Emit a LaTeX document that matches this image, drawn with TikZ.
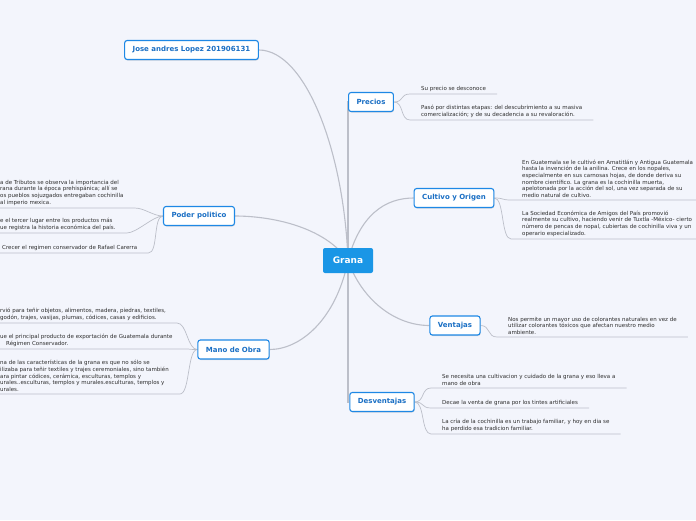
\documentclass[tikz,border=0pt]{standalone}
\usepackage{fontspec}
\setmainfont{DejaVu Sans}
\usetikzlibrary{shadows}
\definecolor{cbg}{HTML}{F3F5FC}
\definecolor{cblue}{HTML}{1E88E5}
\definecolor{ctopic}{HTML}{1A6FC4}
\definecolor{croot}{HTML}{1A96E6}
\definecolor{clink}{HTML}{BCBFC9}
\definecolor{cleaf}{HTML}{2E2E2E}
\pgfdeclarelayer{bg}
\pgfsetlayers{bg,main}
\tikzset{
  every picture/.style={x=1pt, y=-1pt},
  root/.style={fill=croot, rounded corners=2pt, text=white,
    font=\fontsize{9}{10}\selectfont\bfseries, minimum width=50pt, minimum height=25pt},
  topic/.style={draw=cblue, line width=1.1pt, fill=white, rounded corners=2.5pt, text=ctopic,
    font=\fontsize{7}{8}\selectfont\bfseries, inner xsep=8pt, minimum height=19pt,
    drop shadow={shadow xshift=0.5pt, shadow yshift=-1pt, opacity=0.25}},
  leaf/.style={anchor=south west, align=left, text=cleaf,
    font=\fontsize{5.5}{6.6}\selectfont, inner xsep=11pt, inner ysep=2.5pt},
  link/.style={clink, line width=1.1pt},
  twig/.style={clink, line width=0.7pt},
}
\newcommand{\bbox}{\path[use as bounding box] (0,0) rectangle (696,520);}

\begin{document}
\begin{tikzpicture}
  \bbox
  % central topic and branches
  \node[root] (grana) at (348,260.5) {Grana};
  \node[topic] (jose) at (191.5,50) {Jose andres Lopez 201906131};
  \node[topic] (precios) at (371,102) {Precios};
  \node[topic] (cultivo) at (454,198) {Cultivo y Origen};
  \node[topic] (ventajas) at (455,325.5) {Ventajas};
  \node[topic] (desv) at (382,402) {Desventajas};
  \node[topic] (poder) at (199,216) {Poder politico};
  \node[topic] (mano) at (233.5,349.5) {Mano de Obra};

  % leaves, right side
  \node[leaf] (pre1) at (410,94) {Su precio se desconoce};
  \node[leaf] (pre2) at (410,120) {Pasó por distintas etapas: del descubrimiento a su masiva\\
    comercialización; y de su decadencia a su revaloración.};
  \node[leaf] (cul1) at (511,200) {En Guatemala se le cultivó en Amatitlán y Antigua Guatemala\\
    hasta la invención de la anilina. Crece en los nopales,\\
    especialmente en sus carnosas hojas, de donde deriva su\\
    nombre científico. La grana es la cochinilla muerta,\\
    apelotonada por la acción del sol, una vez separada de su\\
    medio natural de cultivo.};
  \node[leaf] (cul2) at (511,239) {La Sociedad Económica de Amigos del País promovió\\
    realmente su cultivo, haciendo venir de Tuxtla -México- cierto\\
    número de pencas de nopal, cubiertas de cochinilla viva y un\\
    operario especializado.};
  \node[leaf] (ven1) at (497,337) {Nos permite un mayor uso de colorantes naturales en vez de\\
    utilizar colorantes tóxicos que afectan nuestro medio\\
    ambiente.};
  \node[leaf] (des1) at (431,388) {Se necesita una cultivacion y cuidado de la grana y eso lleva a\\
    mano de obra};
  \node[leaf] (des2) at (431,408) {Decae la venta de grana por los tintes artificiales};
  \node[leaf] (des3) at (431,434) {La cría de la cochinilla es un trabajo familiar, y hoy en dia se\\
    ha perdido esa tradicion familiar.};

  % leaves, left side (cut by the page edge)
  \node[leaf] (pod1) at (-11,208) {a de Tributos se observa la importancia del\\
    rana durante la época prehispánica; allí se\\
    os pueblos sojuzgados entregaban cochinilla\\
    al imperio mexica.};
  \node[leaf] (pod2) at (-11,233) {e el tercer lugar entre los productos más\\
    ue registra la historia económica del país.};
  \node[leaf] (pod3) at (-11,253) {\hspace*{2pt}Crecer el regimen conservador de Rafael Carerra};
  \node[leaf] (man1) at (-11,323) {rvió para teñir objetos, alimentos, madera, piedras, textiles,\\
    godón, trajes, vasijas, plumas, códices, casas y edificios.};
  \node[leaf] (man2) at (-11,349) {ue el principal producto de exportación de Guatemala durante\\
    \hspace*{6pt}Régimen Conservador.};
  \node[leaf] (man3) at (-11,394) {na de las características de la grana es que no sólo se\\
    ilizaba para teñir textiles y trajes ceremoniales, sino también\\
    ara pintar códices, cerámica, esculturas, templos y\\
    urales..esculturas, templos y murales.esculturas, templos y\\
    urales.};

  \begin{pgfonlayer}{bg}
    \fill[cbg] (0,0) rectangle (696,520);
    % main branches
    \draw[link] (grana.center) .. controls (344,150) and (305,50) .. (jose.east);
    \draw[link] (grana.center) |- (precios.west);
    \draw[link] (grana.center) .. controls (360,215) and (385,198) .. (cultivo.west);
    \draw[link] (grana.center) .. controls (324,226) and (270,216) .. (poder.east);
    \draw[link] (grana.center) .. controls (362,300) and (395,325.5) .. (ventajas.west);
    \draw[link] (grana.center) |- (desv.west);
    \draw[link] (grana.center) .. controls (336,320) and (300,349.5) .. (mano.east);
    % twigs to leaves
    \foreach \b/\l in {precios/pre1, precios/pre2, cultivo/cul1, cultivo/cul2,
        ventajas/ven1, desv/des1, desv/des2, desv/des3}
      \draw[twig] (\b.east) .. controls +(10,0) and +(-10,0) .. (\l.south west) -- (\l.south east);
    \foreach \b/\l in {poder/pod1, poder/pod2, poder/pod3, mano/man1, mano/man2, mano/man3}
      \draw[twig] (\b.west) .. controls +(-10,0) and +(10,0) .. (\l.south east) -- (\l.south west);
  \end{pgfonlayer}
\end{tikzpicture}
\end{document}
